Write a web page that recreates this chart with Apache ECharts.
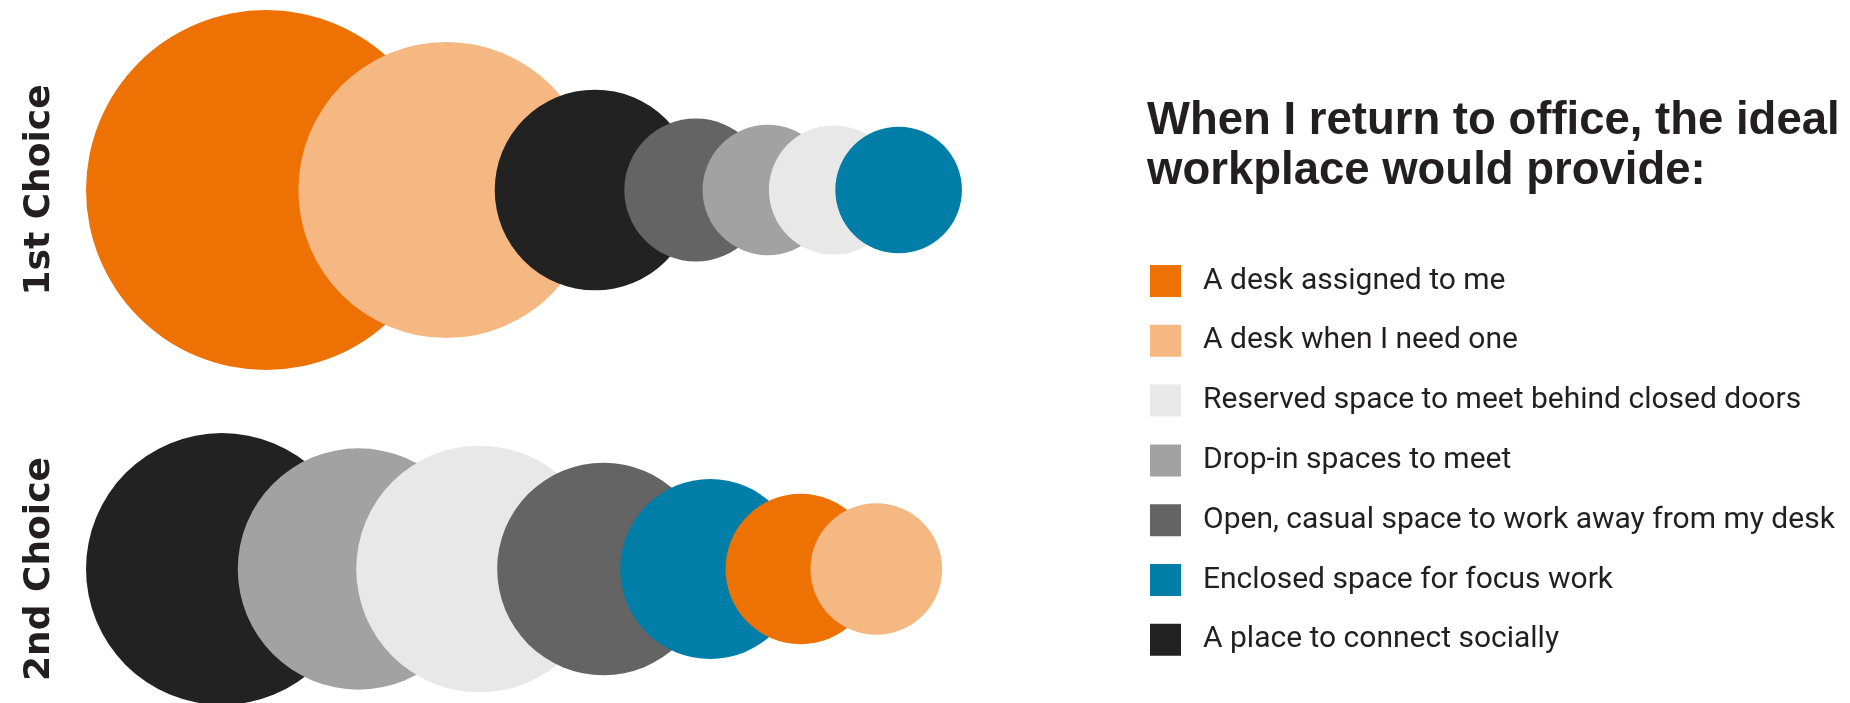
<!DOCTYPE html>
<html>
<head>
<meta charset="utf-8">
<style>
  html, body { margin: 0; padding: 0; background: #ffffff; }
  #chart { width: 1850px; height: 703px; }
</style>
<script src="https://cdn.jsdelivr.net/npm/echarts@6/dist/echarts.min.js"></script>
</head>
<body>
<div id="chart"></div>
<script>
// ---- data ----
var rowLabels = ['1st Choice', '2nd Choice'];
var options = [
  'A desk assigned to me',
  'A desk when I need one',
  'Reserved space to meet behind closed doors',
  'Drop-in spaces to meet',
  'Open, casual space to work away from my desk',
  'Enclosed space for focus work',
  'A place to connect socially'
];
// estimated share (%) per option, legend order
var firstChoice  = [39.6, 26.8, 5.1, 5.2, 6.25, 4.9, 12.3];
var secondChoice = [6.9, 5.3, 18.6, 17.8, 13.8, 9.9, 22.6];
// drawing order of options in each row (indices into options)
var firstOrder  = [0, 1, 6, 4, 3, 2, 5];
var secondOrder = [6, 3, 2, 4, 5, 0, 1];
var colors = ['#EE7203', '#F5B883', '#E8E8E8', '#A2A2A2', '#646464', '#007EA7', '#222222'];

// ---- build ----
var K = 57.2;          // diameter = K * sqrt(share)
var startX = 86;       // left edge of the first bubble
function diam(v) { return K * Math.sqrt(v); }

var series = [];
function buildRow(values, order, rowIdx) {
  var prevCenter = null, prevR = 0;
  order.forEach(function (idx, k) {
    var d = diam(values[idx]);
    var r = d / 2;
    var cx = prevCenter === null ? startX + r : prevCenter + prevR + 0.5;
    series.push({
      type: 'scatter',
      name: options[idx],
      data: [[cx, rowLabels[rowIdx]]],
      symbol: 'circle',
      symbolSize: d,
      itemStyle: { color: colors[idx], opacity: 1 },
      z: 2 + k,
      silent: true,
      emphasis: { disabled: true }
    });
    prevCenter = cx; prevR = r;
  });
}
buildRow(firstChoice, firstOrder, 0);
buildRow(secondChoice, secondOrder, 1);

var chart = echarts.init(document.getElementById('chart'), null, { renderer: 'canvas' });
chart.setOption({
  animation: false,
  backgroundColor: '#ffffff',
  color: colors,
  title: {
    text: 'When I return to office, the ideal\nworkplace would provide:',
    left: 1147,
    top: 96,
    padding: 0,
    textStyle: {
      fontFamily: 'Liberation Sans',
      fontWeight: 'bold',
      fontSize: 45.5,
      lineHeight: 50,
      color: '#231F20'
    }
  },
  legend: {
    orient: 'vertical',
    left: 1150,
    top: 265,
    padding: 0,
    itemWidth: 31,
    itemHeight: 32,
    itemGap: 27.8,
    icon: 'rect',
    selectedMode: false,
    data: options,
    textStyle: {
      fontFamily: 'Roboto',
      fontSize: 30,
      lineHeight: 32,
      color: '#231F20',
      padding: [0, 0, 0, 17]
    }
  },
  grid: { left: 60, top: 0.5, width: 1000, height: 758, outerBoundsMode: 'none', containLabel: false },
  xAxis: {
    type: 'value', min: 60, max: 1060,
    show: false
  },
  yAxis: {
    type: 'category',
    data: rowLabels,
    inverse: true,
    axisLine: { show: false },
    axisTick: { show: false },
    splitLine: { show: false },
    axisLabel: {
      rotate: 90,
      margin: 2,
      fontFamily: 'DejaVu Sans',
      fontWeight: 'bold',
      fontSize: 36,
      color: '#231F20'
    }
  },
  series: series
});
</script>
</body>
</html>
